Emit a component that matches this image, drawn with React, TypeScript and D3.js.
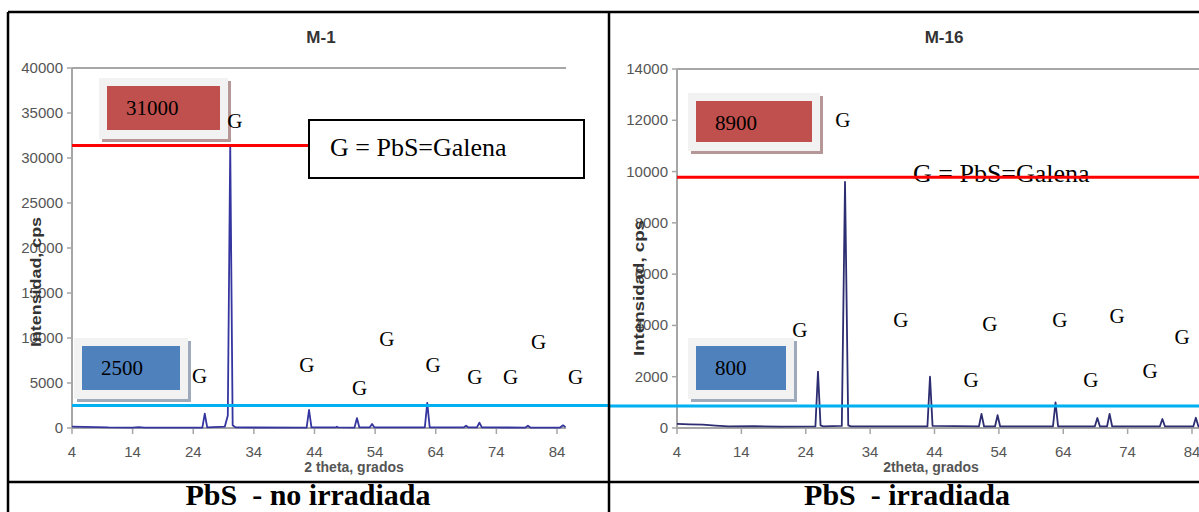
import React from 'react';
import * as d3 from 'd3';

// ---------- data ----------
const thetaTicks = [4, 14, 24, 34, 44, 54, 64, 74, 84];
const m1Ticks = [0, 5000, 10000, 15000, 20000, 25000, 30000, 35000, 40000];
const m16Ticks = [0, 2000, 4000, 6000, 8000, 10000, 12000, 14000];

// M-1 (PbS no irradiada) diffractogram, 2theta (deg) vs intensity (cps)
const m1Theta = [4, 6, 8, 10, 14, 15, 16, 20, 25.5, 25.9, 26.3, 29.2, 29.7, 30.1, 30.5, 31, 42.7, 43.1, 43.5, 47.5, 47.7, 47.9, 50.6, 51.0, 51.4, 53.1, 53.5, 53.9, 62.2, 62.6, 63.0, 68.6, 69.0, 69.4, 70.8, 71.2, 71.6, 78.8, 79.2, 79.6, 84.5, 85.0, 85.4];
const m1Counts = [150, 120, 100, 60, 40, 90, 40, 40, 50, 1600, 60, 150, 1400, 31400, 300, 60, 50, 2000, 60, 60, 150, 60, 50, 1100, 60, 60, 450, 60, 60, 2800, 60, 60, 250, 60, 60, 600, 60, 50, 250, 50, 50, 300, 100];

// M-16 (PbS irradiada)
const m16Theta = [4, 6, 8, 10, 12, 16, 20, 25.5, 25.9, 26.3, 26.7, 29.6, 30.1, 30.6, 31, 42.9, 43.3, 43.7, 50.9, 51.3, 51.7, 53.4, 53.8, 54.2, 62.4, 62.8, 63.2, 68.9, 69.3, 69.7, 70.8, 71.2, 71.6, 79.0, 79.4, 79.8, 84.2, 84.6, 85.0, 86];
const m16Counts = [160, 140, 130, 90, 60, 70, 50, 60, 2200, 100, 60, 80, 9600, 100, 60, 60, 2000, 80, 60, 550, 60, 60, 500, 60, 60, 1000, 60, 60, 390, 60, 60, 550, 60, 60, 350, 60, 60, 400, 60, 60];

// reference levels and callouts
const m1Levels = [31400, 2500];
const m1LevelLabels = ['31000', '2500'];
const m16Levels = [9780, 858];
const m16LevelLabels = ['8900', '800'];

// "G" peak annotations in data coordinates [2theta, cps]
const m1G: [number, number][] = [[29.6, 33300], [23.8, 5000], [41.5, 6220], [54.7, 9110], [50.2, 3670], [62.3, 6220], [69.2, 4890], [75.1, 4890], [79.7, 8780], [85.8, 4890]];
const m16G: [number, number][] = [[28.6, 11735], [21.9, 3550], [37.6, 3940], [51.4, 3780], [48.5, 1600], [62.3, 3940], [71.2, 4090], [67.1, 1600], [76.3, 1950], [81.3, 3275]];

const legendText = 'G = PbS=Galena';
const titles = ['M-1', 'M-16'];
const captions = ['PbS  - no irradiada', 'PbS  - irradiada'];
const yTitle = 'Intensidad, cps';
const xTitles = ['2 theta, grados', '2theta, grados'];

// ---------- styles ----------
const SERIF = "'Liberation Serif', 'Times New Roman', serif";
const SANS = "'Liberation Sans Narrow', 'Arial Narrow', 'Liberation Sans', Arial, sans-serif";
const AXIS = '#a6a6a6';
const TICKTXT = '#555';

const xL = d3.scaleLinear().domain([4, 84]).range([72, 557]);
const yL = d3.scaleLinear().domain([0, 40000]).range([428, 68]);
const xR = d3.scaleLinear().domain([4, 84]).range([677, 1192]);
const yR = d3.scaleLinear().domain([0, 14000]).range([428, 69]);

function Axes({ x, y, yTicks, xEnd }: any) {
  const x0 = x(4);
  const y0 = y(0);
  const yTop = y(yTicks[yTicks.length - 1]);
  return (
    <g>
      <line x1={x0} x2={xEnd} y1={yTop} y2={yTop} stroke={AXIS} strokeWidth={2} />
      <line x1={x0} x2={x0} y1={yTop} y2={y0} stroke={AXIS} strokeWidth={2} />
      <line x1={x0} x2={xEnd} y1={y0} y2={y0} stroke={AXIS} strokeWidth={2} />
      {yTicks.map((t: number) => (
        <g key={'y' + t}>
          <line x1={x0 - 5} x2={x0} y1={y(t)} y2={y(t)} stroke={AXIS} strokeWidth={1.5} />
          <text x={x0 - 9} y={y(t) + 5} textAnchor="end" fontFamily={SANS} fontSize={15} fill={TICKTXT}>{t}</text>
        </g>
      ))}
      {thetaTicks.map((t) => (
        <g key={'x' + t}>
          <line x1={x(t)} x2={x(t)} y1={y0} y2={y0 + 6} stroke={AXIS} strokeWidth={1.5} />
          <text x={x(t)} y={y0 + 29} textAnchor="middle" fontFamily={SANS} fontSize={15} fill={TICKTXT}>{t}</text>
        </g>
      ))}
    </g>
  );
}

function Callout({ x0, y0, w, h, fill, shadow, label }: any) {
  return (
    <g>
      <rect x={x0 + 3} y={y0 + 3} width={w} height={h} fill={shadow} />
      <rect x={x0} y={y0} width={w} height={h} fill="#f2f2f2" />
      <rect x={x0 + 8} y={y0 + 8} width={w - 16} height={h - 17} fill={fill} />
      <text x={x0 + 27} y={y0 + 37} fontFamily={SERIF} fontSize={21} fill="#000">{label}</text>
    </g>
  );
}

export default function App() {
  const lineL = d3.line<number>().x((d, i) => xL(m1Theta[i])).y((d) => yL(d));
  const lineR = d3.line<number>().x((d, i) => xR(m16Theta[i])).y((d) => yR(d));

  return (
    <svg width={1199} height={512} style={{ position: 'fixed', left: 0, top: 0, background: '#fff' }}>
      <rect x={0} y={0} width={1199} height={512} fill="#fff" />

      {/* titles */}
      <text x={321} y={43} textAnchor="middle" fontFamily={SANS} fontWeight="bold" fontSize={17} fill="#333">{titles[0]}</text>
      <text x={944} y={43} textAnchor="middle" fontFamily={SANS} fontWeight="bold" fontSize={17} fill="#333">{titles[1]}</text>

      {/* axes */}
      <Axes x={xL} y={yL} yTicks={m1Ticks} xEnd={xL(85.5)} />
      <Axes x={xR} y={yR} yTicks={m16Ticks} xEnd={1199} />

      {/* axis titles */}
      <text transform={`translate(41,282) rotate(-90)`} textAnchor="middle" fontFamily={SANS} fontWeight="bold" fontSize={14} fill="#333" textLength={130} lengthAdjust="spacingAndGlyphs">{yTitle}</text>
      <text transform={`translate(644,288) rotate(-90)`} textAnchor="middle" fontFamily={SANS} fontWeight="bold" fontSize={14} fill="#333" textLength={136} lengthAdjust="spacingAndGlyphs">{yTitle}</text>
      <text x={354} y={472} textAnchor="middle" fontFamily={SANS} fontWeight="bold" fontSize={14} fill={TICKTXT}>{xTitles[0]}</text>
      <text x={931} y={472} textAnchor="middle" fontFamily={SANS} fontWeight="bold" fontSize={14} fill={TICKTXT}>{xTitles[1]}</text>

      {/* diffractograms */}
      <path d={lineL(m1Counts) || ''} fill="none" stroke="#3535a0" strokeWidth={1.8} strokeLinejoin="round" />
      <path d={lineR(m16Counts) || ''} fill="none" stroke="#2d2d72" strokeWidth={1.8} strokeLinejoin="round" />

      {/* reference lines */}
      <line x1={xL(4)} x2={309} y1={yL(m1Levels[0])} y2={yL(m1Levels[0])} stroke="#ff0000" strokeWidth={3} />
      <line x1={xL(4)} x2={609} y1={yL(m1Levels[1])} y2={yL(m1Levels[1])} stroke="#00b0f0" strokeWidth={3} />
      <line x1={609} x2={1199} y1={yR(m16Levels[1])} y2={yR(m16Levels[1])} stroke="#00b0f0" strokeWidth={3} />

      {/* legend */}
      <rect x={309} y={120} width={275} height={58} fill="#fff" stroke="#000" strokeWidth={2} />
      <text x={330} y={156} fontFamily={SERIF} fontSize={26} fill="#000">{legendText}</text>
      <text x={913} y={182} fontFamily={SERIF} fontSize={26} fill="#000">{legendText}</text>
      <line x1={xR(4)} x2={1199} y1={yR(m16Levels[0])} y2={yR(m16Levels[0])} stroke="#ff0000" strokeWidth={3} />

      {/* callouts */}
      <Callout x0={99} y0={78} w={129} h={61} fill="#c0504d" shadow="#b59797" label={m1LevelLabels[0]} />
      <Callout x0={74} y0={338} w={114} h={61} fill="#4f81bd" shadow="#9ea9ba" label={m1LevelLabels[1]} />
      <Callout x0={688} y0={93} w={132} h={58} fill="#c0504d" shadow="#b59797" label={m16LevelLabels[0]} />
      <Callout x0={688} y0={338} w={106} h={61} fill="#4f81bd" shadow="#9ea9ba" label={m16LevelLabels[1]} />

      {/* G annotations */}
      {m1G.map(([t, c], i) => (
        <text key={'gl' + i} x={xL(t)} y={yL(c)} fontFamily={SERIF} fontSize={21} fill="#000">G</text>
      ))}
      {m16G.map(([t, c], i) => (
        <text key={'gr' + i} x={xR(t)} y={yR(c)} fontFamily={SERIF} fontSize={21} fill="#000">G</text>
      ))}

      {/* table frame */}
      <line x1={8} x2={1199} y1={12} y2={12} stroke="#000" strokeWidth={2.5} />
      <line x1={8} x2={8} y1={12} y2={512} stroke="#000" strokeWidth={2.5} />
      <line x1={609} x2={609} y1={12} y2={512} stroke="#000" strokeWidth={2.5} />
      <line x1={8} x2={1199} y1={482} y2={482} stroke="#000" strokeWidth={2.5} />

      {/* captions */}
      <text x={308} y={505} textAnchor="middle" fontFamily={SERIF} fontWeight="bold" fontSize={30} fill="#000" style={{ whiteSpace: 'pre' }}>{captions[0]}</text>
      <text x={907} y={505} textAnchor="middle" fontFamily={SERIF} fontWeight="bold" fontSize={30} fill="#000" style={{ whiteSpace: 'pre' }}>{captions[1]}</text>
    </svg>
  );
}
